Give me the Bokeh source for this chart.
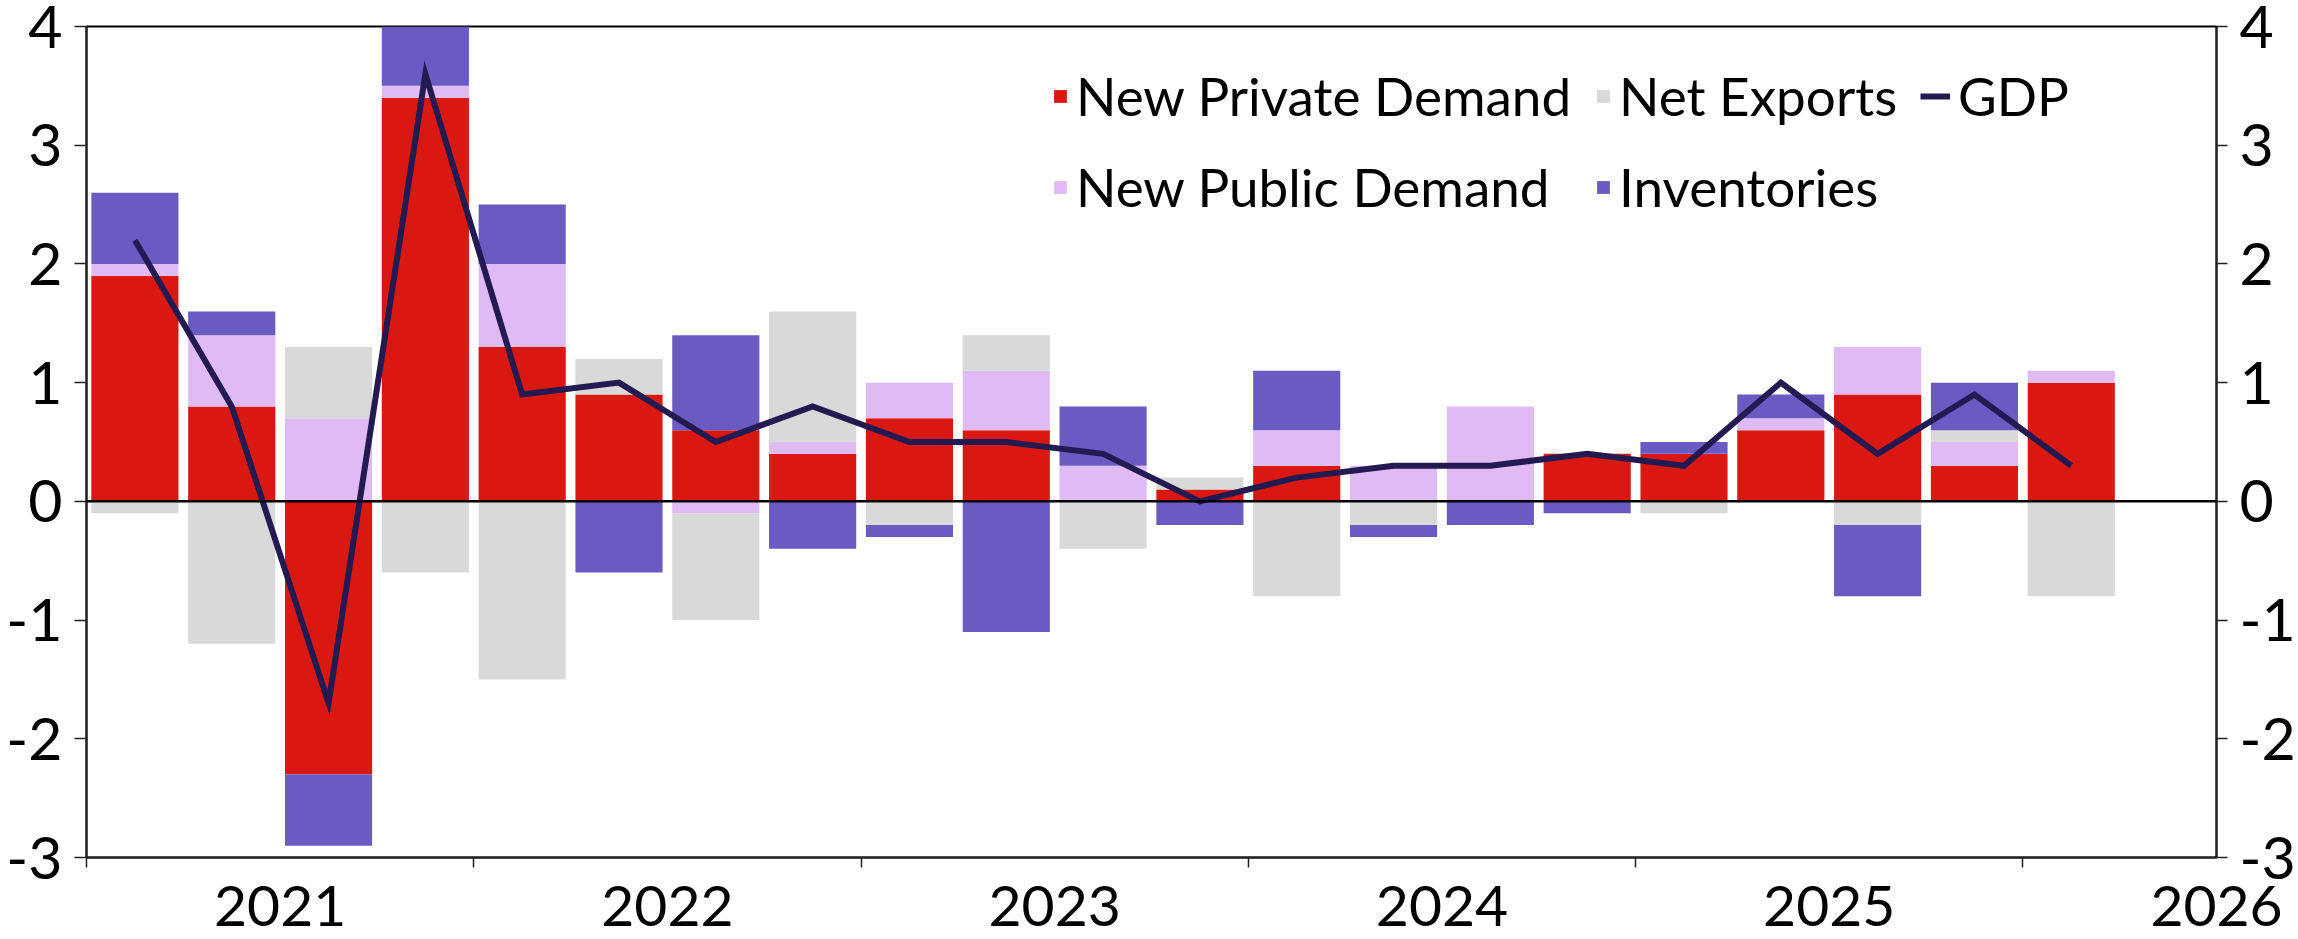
from bokeh.plotting import figure
from bokeh.models import (Range1d, LinearAxis, FixedTicker, Legend, LegendItem,
                          Span)
from bokeh.embed import file_html
from bokeh.resources import INLINE

# ---------------- data (contributions to q/q GDP growth, % pts) ----------------
quarters = ["2021Q1", "2021Q2", "2021Q3", "2021Q4",
            "2022Q1", "2022Q2", "2022Q3", "2022Q4",
            "2023Q1", "2023Q2", "2023Q3", "2023Q4",
            "2024Q1", "2024Q2", "2024Q3", "2024Q4",
            "2025Q1", "2025Q2", "2025Q3", "2025Q4",
            "2026Q1"]
years = ["2021", "2022", "2023", "2024", "2025", "2026"]

new_private_demand = [1.9, 0.8, -2.3, 3.4, 1.3, 0.9, 0.6, 0.4, 0.7, 0.6, 0.0,
                      0.1, 0.3, 0.0, 0.0, 0.4, 0.4, 0.6, 0.9, 0.3, 1.0]
new_public_demand = [0.1, 0.6, 0.7, 0.1, 0.7, 0.0, -0.1, 0.1, 0.3, 0.5, 0.3,
                     0.0, 0.3, 0.3, 0.8, 0.0, 0.0, 0.1, 0.4, 0.2, 0.1]
net_exports = [-0.1, -1.2, 0.6, -0.6, -1.5, 0.3, -0.9, 1.1, -0.2, 0.3, -0.4,
               0.1, -0.8, -0.2, 0.0, 0.0, -0.1, 0.0, -0.2, 0.1, -0.8]
inventories = [0.6, 0.2, -0.6, 0.5, 0.5, -0.6, 0.8, -0.4, -0.1, -1.1, 0.5,
               -0.2, 0.5, -0.1, -0.2, -0.1, 0.1, 0.2, -0.6, 0.4, 0.0]
gdp = [2.2, 0.8, -1.7, 3.6, 0.9, 1.0, 0.5, 0.8, 0.5, 0.5, 0.4,
       0.0, 0.2, 0.3, 0.3, 0.4, 0.3, 1.0, 0.4, 0.9, 0.3]

y_ticks = [-3, -2, -1, 0, 1, 2, 3, 4]
y_tick_labels = ["-3", "-2", "-1", "0", "1", "2", "3", "4"]

# ---------------- styling ----------------
FONT = "Lato"
C_PRIV = "#DA1812"
C_PUB = "#E0BBF3"
C_NX = "#D9D9D9"
C_INV = "#6A5BC2"
C_GDP = "#221A50"
FRAME_H = 831

n = len(quarters)
xs = [i + 0.5 for i in range(n)]

p = figure(frame_width=2130, frame_height=FRAME_H,
           x_range=Range1d(0, n + 1), y_range=Range1d(y_ticks[0], y_ticks[-1]),
           output_backend="svg", toolbar_location=None,
           min_border_left=86, min_border_top=26, min_border_bottom=20,
           min_border_right=60, background_fill_color="white",
           border_fill_color="white")
p.xgrid.visible = False
p.ygrid.visible = False
p.outline_line_color = "black"
p.outline_line_width = 2

p.add_layout(Span(location=0, dimension="width", line_color="black",
                  line_width=2.5))

# stacked bars: positives stack upward, negatives downward
pos = [0.0] * n
neg = [0.0] * n
series = [("New Private Demand", new_private_demand, C_PRIV),
          ("New Public Demand", new_public_demand, C_PUB),
          ("Net Exports", net_exports, C_NX),
          ("Inventories", inventories, C_INV)]
rends = {}
for name, vals, color in series:
    bottoms, tops = [], []
    for i, v in enumerate(vals):
        if v >= 0:
            b = pos[i]
            pos[i] = b + v
        else:
            b = neg[i]
            neg[i] = b + v
        bottoms.append(b)
        tops.append(b + v)
    rends[name] = p.vbar(x=xs, bottom=bottoms, top=tops, width=0.9,
                         fill_color=color, line_color=None)

rends["GDP"] = p.line(xs, gdp, line_color=C_GDP, line_width=6,
                      line_join="miter")

# ---------------- axes ----------------
overrides = {t: s for t, s in zip(y_ticks, y_tick_labels)}
p.yaxis[0].ticker = FixedTicker(ticks=y_ticks)
p.add_layout(LinearAxis(ticker=FixedTicker(ticks=y_ticks)), "right")

for ax in p.yaxis:
    ax.major_label_overrides = overrides
    ax.major_tick_in = 0
    ax.minor_tick_line_color = None
    ax.major_label_text_font = FONT
    ax.major_label_text_font_size = "59px"
    ax.major_label_text_color = "black"
    ax.axis_line_color = "#222222"
    ax.axis_line_width = 2
    ax.major_tick_line_color = "#222222"
    ax.major_tick_line_width = 1.5
p.yaxis[0].major_tick_out = 12
p.yaxis[0].major_label_standoff = 12
p.yaxis[1].major_tick_out = 11
p.yaxis[1].major_label_standoff = 12

# year labels centred on each year's four quarters, ticks at year boundaries
year_centres = [4 * j + 2 for j in range(len(years))]
year_bounds = [4 * j for j in range(len(years)) if 4 * j < n]
xa = p.xaxis[0]
xa.ticker = FixedTicker(ticks=year_centres, minor_ticks=year_bounds)
xa.major_label_overrides = {c: y for c, y in zip(year_centres, years)}
xa.major_tick_line_color = None
xa.major_tick_in = 0
xa.major_tick_out = 0
xa.minor_tick_in = 0
xa.minor_tick_out = 10
xa.minor_tick_line_color = "#222222"
xa.minor_tick_line_width = 1.5
xa.axis_line_color = "#222222"
xa.axis_line_width = 2
xa.major_label_standoff = 18
xa.major_label_text_font = FONT
xa.major_label_text_font_size = "57px"
xa.major_label_text_color = "black"

# ---------------- legend ----------------
bar_order = ["New Private Demand", "New Public Demand", "Net Exports",
             "Inventories"]
common = dict(padding=0, margin=0, label_standoff=8, label_height=67,
              glyph_height=16, label_text_font=FONT,
              label_text_font_size="53px", label_text_color="black",
              border_line_color=None, background_fill_alpha=0)
legend_bars = Legend(items=[LegendItem(label=k, renderers=[rends[k]])
                            for k in bar_order],
                     location=(966, FRAME_H - 194), orientation="vertical",
                     nrows=2, spacing=24, glyph_width=16, **common)
legend_line = Legend(items=[LegendItem(label="GDP", renderers=[rends["GDP"]])],
                     location=(1834, FRAME_H - 103), orientation="vertical",
                     glyph_width=30, **common)
p.add_layout(legend_bars)
p.add_layout(legend_line)

open("out.html", "w").write(file_html(p, INLINE))
